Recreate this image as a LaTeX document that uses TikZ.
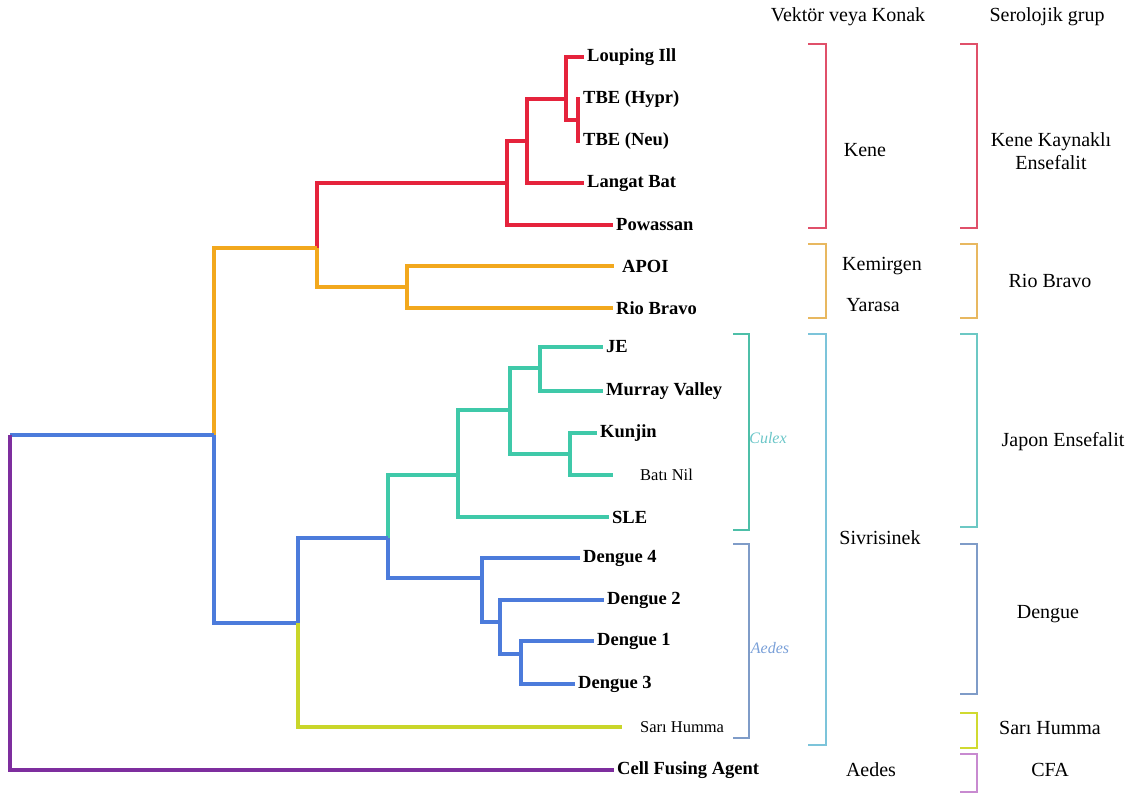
\documentclass[tikz,border=0pt]{standalone}
\usepackage{fontspec}
\setmainfont{Liberation Serif}
\usepackage{xcolor}
\usetikzlibrary{positioning}
\definecolor{tickred}{HTML}{E5233C}
\definecolor{batorange}{HTML}{F2A81D}
\definecolor{culexteal}{HTML}{3FC9A9}
\definecolor{aedesblue}{HTML}{4C7BDB}
\definecolor{yfyellow}{HTML}{C9D62A}
\definecolor{cfapurple}{HTML}{7E2E9E}
\definecolor{brred}{HTML}{E0506A}
\definecolor{brorange}{HTML}{E8B860}
\definecolor{brteal}{HTML}{4DBFA8}
\definecolor{brsky}{HTML}{7CC4DA}
\definecolor{brslate}{HTML}{7F9CC8}
\definecolor{brjapan}{HTML}{6CC8C4}
\definecolor{brlime}{HTML}{D0DA30}
\definecolor{brpink}{HTML}{C88AD0}
\definecolor{culextext}{HTML}{6BC6C8}
\definecolor{aedestext}{HTML}{7AA0D8}

\begin{document}
\begin{tikzpicture}[x=1pt,y=-1pt]
        \tikzset{tree/.style={line width=3.3pt},
                 br/.style={line width=2.1pt},
                 leaf/.style={anchor=west, inner xsep=3pt, font=\bfseries\fontsize{18.5}{21}\selectfont},
                 thinleaf/.style={leaf, font=\fontsize{16.5}{19}\selectfont},
                 lbl/.style={font=\fontsize{20}{23}\selectfont, align=center}}
        \useasboundingbox (0,0) rectangle (1133,793);
        \node [leaf] (lou) at (584,57) {Louping Ill};
        \node [leaf] (hypr) at (580,99) {TBE (Hypr)};
        \node [leaf] (neu) at (580,141) {TBE (Neu)};
        \node [leaf] (langat) at (584,183) {Langat Bat};
        \node [leaf] (powassan) at (613,225) {Powassan};
        \node [leaf, inner xsep=8pt] (apoi) at (614,266) {APOI};
        \node [leaf] (riobravo) at (613,308) {Rio Bravo};
        \node [leaf] (je) at (603,347) {JE};
        \node [leaf] (murray) at (603,391) {Murray Valley};
        \node [leaf] (kunjin) at (597,433) {Kunjin};
        \node [thinleaf, inner xsep=27pt] (batinil) at (613,475) {Batı Nil};
        \node [leaf] (sle) at (609,517) {SLE};
        \node [leaf] (den4) at (580,558) {Dengue 4};
        \node [leaf] (den2) at (604,600) {Dengue 2};
        \node [leaf] (den1) at (594,641) {Dengue 1};
        \node [leaf] (den3) at (575,684) {Dengue 3};
        \node [thinleaf, inner xsep=18pt] (sari) at (622,727) {Sarı Humma};
        \node [leaf] (cfa) at (614,770) {Cell Fusing Agent};
        \coordinate (tbe) at (578,120);
        \coordinate (lit) at (566,99);
        \coordinate (lan) at (527,141);
        \coordinate (kene) at (507,183);
        \coordinate (rio) at (407,287);
        \coordinate (nkr) at (317,248);
        \coordinate (jemv) at (540,368);
        \coordinate (kun) at (570,454);
        \coordinate (jek) at (510,410);
        \coordinate (jes) at (458,475);
        \coordinate (den) at (482,578);
        \coordinate (d213) at (500,622);
        \coordinate (d13) at (521,654);
        \coordinate (mos) at (388,538);
        \coordinate (mosy) at (298,623);
        \coordinate (flavi) at (214,435);
        \coordinate (root) at (10,435);
        \draw [tickred, tree] (tbe) |- (hypr.west);
        \draw [tickred, tree] (tbe) |- (neu.west);
        \draw [tickred, tree] (lit) |- (lou.west);
        \draw [tickred, tree] (lit) |- (tbe);
        \draw [tickred, tree] (lan) |- (lit);
        \draw [tickred, tree] (lan) |- (langat.west);
        \draw [tickred, tree] (kene) |- (lan);
        \draw [tickred, tree] (kene) |- (powassan.west);
        \draw [tickred, tree] (nkr) |- (kene);
        \draw [batorange, tree] (nkr) |- (rio);
        \draw [batorange, tree] (rio) |- (apoi.west);
        \draw [batorange, tree] (rio) |- (riobravo.west);
        \draw [batorange, tree] (flavi) |- (nkr);
        \draw [culexteal, tree] (jemv) |- (je.west);
        \draw [culexteal, tree] (jemv) |- (murray.west);
        \draw [culexteal, tree] (kun) |- (kunjin.west);
        \draw [culexteal, tree] (kun) |- (batinil.west);
        \draw [culexteal, tree] (jek) |- (jemv);
        \draw [culexteal, tree] (jek) |- (kun);
        \draw [culexteal, tree] (jes) |- (jek);
        \draw [culexteal, tree] (jes) |- (sle.west);
        \draw [culexteal, tree] (mos) |- (jes);
        \draw [aedesblue, tree] (d13) |- (den1.west);
        \draw [aedesblue, tree] (d13) |- (den3.west);
        \draw [aedesblue, tree] (d213) |- (den2.west);
        \draw [aedesblue, tree] (d213) |- (d13);
        \draw [aedesblue, tree] (den) |- (den4.west);
        \draw [aedesblue, tree] (den) |- (d213);
        \draw [aedesblue, tree] (mos) |- (den);
        \draw [aedesblue, tree] (mosy) |- (mos);
        \draw [aedesblue, tree] (flavi) |- (mosy);
        \draw [aedesblue, tree] (root) -- (flavi);
        \draw [yfyellow, tree] (mosy) |- (sari.west);
        \draw [cfapurple, tree] (root) |- (cfa.west);
        \draw [brred, br] (808,44) -| (826,228) -- (808,228);
        \draw [brorange, br] (808,244) -| (826,318) -- (808,318);
        \draw [brsky, br] (808,334) -| (826,745) -- (808,745);
        \draw [brteal, br] (733,334) -| (749,530) -- (733,530);
        \draw [brslate, br] (733,544) -| (749,738) -- (733,738);
        \draw [brred, br] (960,44) -| (977,228) -- (960,228);
        \draw [brorange, br] (960,244) -| (977,318) -- (960,318);
        \draw [brjapan, br] (960,334) -| (977,527) -- (960,527);
        \draw [brslate, br] (960,544) -| (977,694) -- (960,694);
        \draw [brlime, br] (960,713) -| (977,748) -- (960,748);
        \draw [brpink, br] (960,754) -| (977,792) -- (960,792);
        \node [lbl] (vekt) at (848,17) {Vektör veya Konak};
        \node [lbl] (sero) at (1047,17) {Serolojik grup};
        \node [lbl] (kenev) at (865,150) {Kene};
        \node [lbl] (kenes) at (1051,151) {Kene Kaynaklı\\Ensefalit};
        \node [lbl] (kemir) at (882,266) {Kemirgen};
        \node [lbl] (yarasa) at (873,305) {Yarasa};
        \node [lbl] (rios) at (1050,281) {Rio Bravo};
        \node [lbl, font=\itshape\fontsize{16}{19}\selectfont, culextext] (culex) at (768,438) {Culex};
        \node [lbl, font=\itshape\fontsize{16}{19}\selectfont, aedestext] (aedesv) at (770,648) {Aedes};
        \node [lbl] (sivri) at (880,538) {Sivrisinek};
        \node [lbl] (japon) at (1063,442) {Japon Ensefalit};
        \node [lbl] (dengs) at (1048,614) {Dengue};
        \node [lbl] (saris) at (1050,728) {Sarı Humma};
        \node [lbl] (aedesh) at (871,770) {Aedes};
        \node [lbl] (cfas) at (1050,770) {CFA};
\end{tikzpicture}
\end{document}
